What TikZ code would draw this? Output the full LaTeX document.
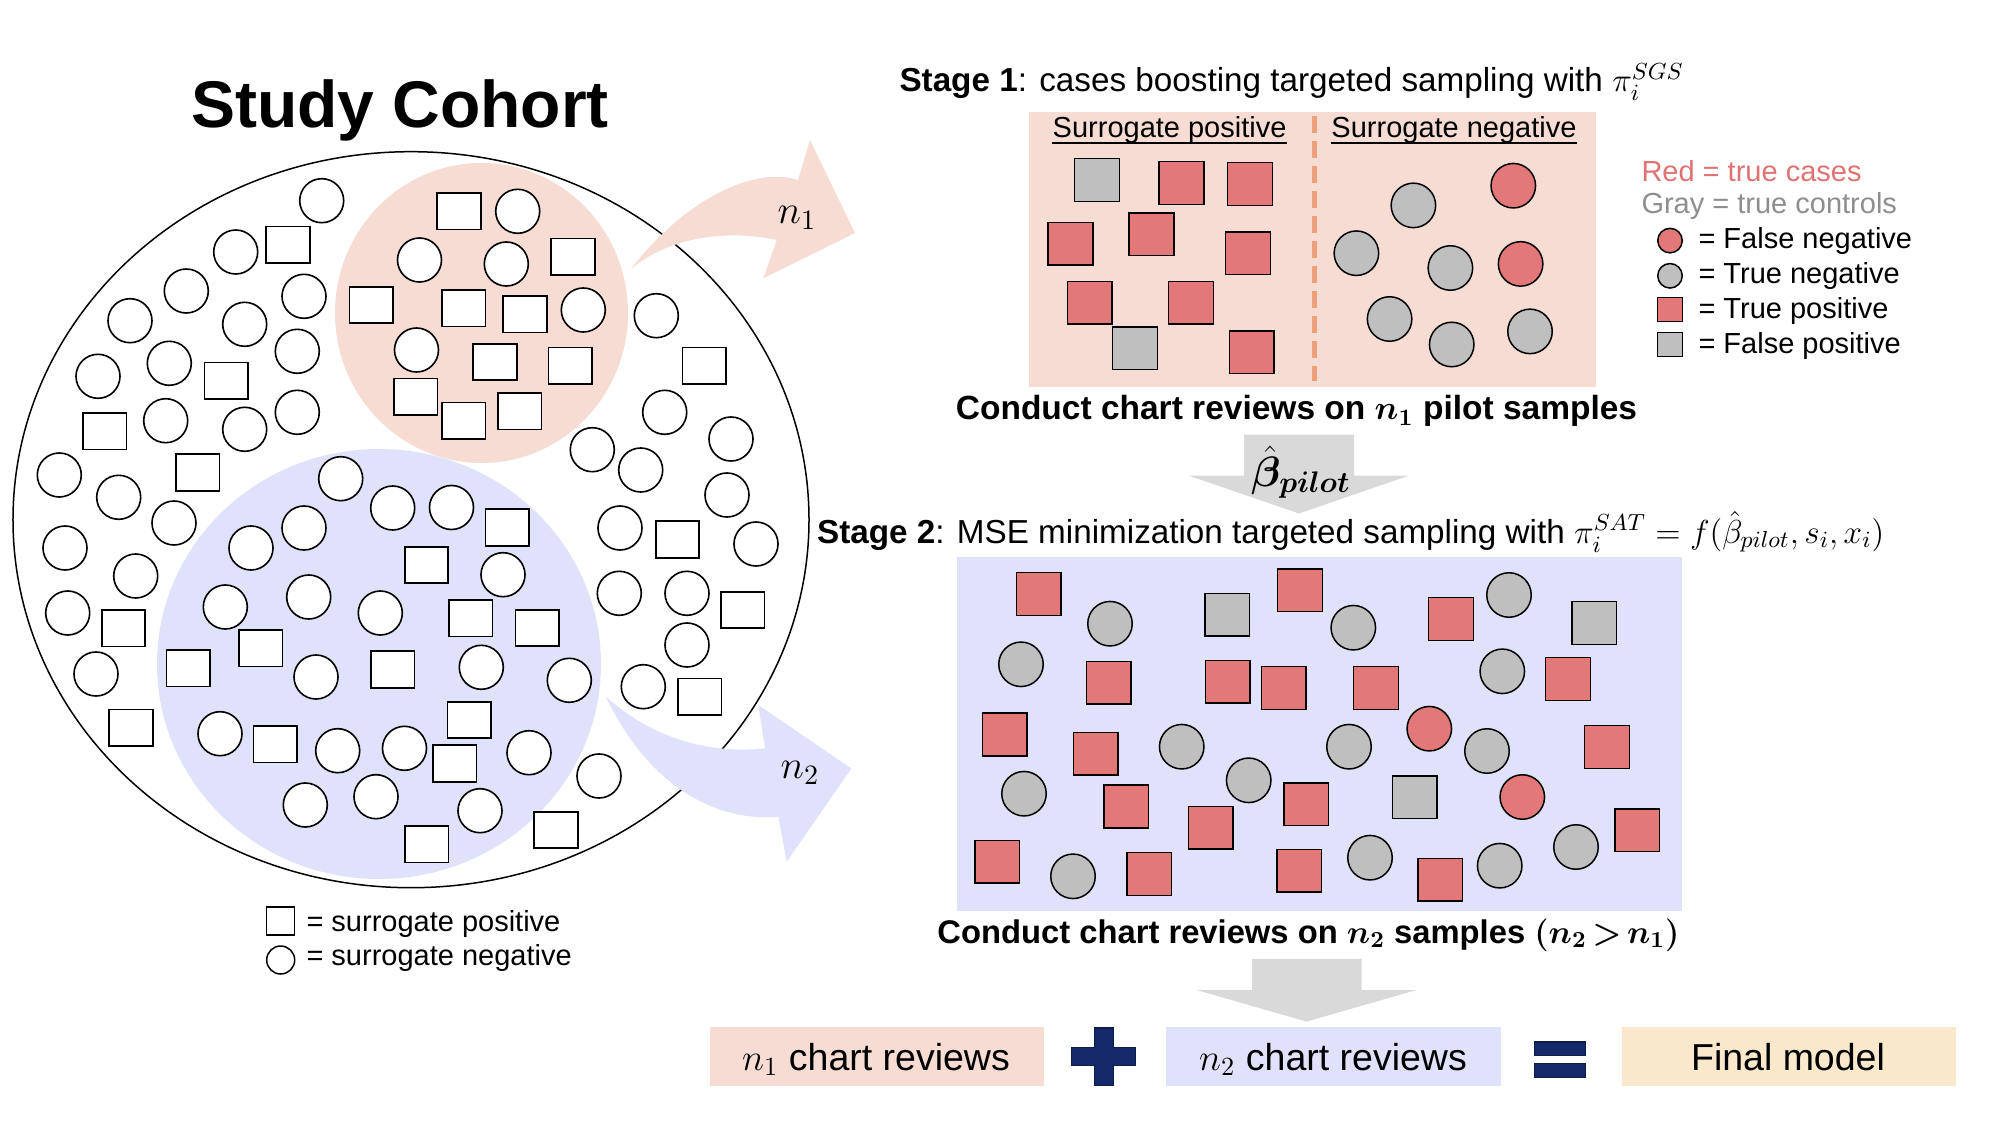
\RequirePackage{fix-cm}
\documentclass[tikz,border=0pt]{standalone}
\usepackage{fontspec}
\setmainfont{Liberation Sans}
\usepackage{amsmath}
\usepackage{bm}
\usetikzlibrary{shapes.geometric}
\definecolor{pinkbg}{HTML}{F6DCD2}
\definecolor{bluebg}{HTML}{E0E2FC}
\definecolor{redf}{HTML}{E27878}
\definecolor{grayf}{HTML}{BFBFBF}
\definecolor{beige}{HTML}{F9E8CB}
\definecolor{navy}{HTML}{14286A}
\definecolor{arrowgray}{HTML}{D9D9D9}
\definecolor{dashor}{HTML}{EEA07C}
\definecolor{redtxt}{HTML}{E07272}
\definecolor{graytxt}{HTML}{8E8E8E}
\begin{document}
\begin{tikzpicture}[x=0.4pt,y=-0.4pt,
  cs/.style={draw,fill=white,line width=0.65pt,minimum width=17.4pt,minimum height=14.6pt,inner sep=0pt},
  cc/.style={draw,fill=white,circle,line width=0.65pt,minimum size=17.6pt,inner sep=0pt},
  tsq/.style={draw,line width=0.6pt,minimum width=17.9pt,minimum height=17.1pt,inner sep=0pt},
  tci/.style={draw,circle,line width=0.6pt,minimum size=17.8pt,inner sep=0pt},
  rsq/.style={tsq,fill=redf}, gsq/.style={tsq,fill=grayf},
  rci/.style={tci,fill=redf}, gci/.style={tci,fill=grayf},
  lsq/.style={draw,line width=0.6pt,minimum width=10pt,minimum height=9.6pt,inner sep=0pt},
  lci/.style={draw,circle,line width=0.6pt,minimum size=9.8pt,inner sep=0pt},
  txt/.style={inner sep=0pt,font=\fontsize{11.6}{14}\selectfont},
  head/.style={inner sep=0pt,font=\fontsize{13.3}{16}\selectfont},
  bhead/.style={inner sep=0pt,font=\bfseries\fontsize{13.4}{16}\selectfont},
  boxtxt/.style={inner sep=0pt,font=\fontsize{15}{18}\selectfont,anchor=base},
  panel/.style={inner sep=0pt,anchor=north west}]
\useasboundingbox (0,0) rectangle (2000,1125);

% ---------- Study cohort ----------
\node[inner sep=0pt,anchor=base,font=\bfseries\fontsize{26.4}{30}\selectfont] (title) at (400,127.5) {Study Cohort};
\node[draw,ellipse,fill=white,line width=0.6pt,minimum width=318.4pt,minimum height=294.4pt,inner sep=0pt] (cohort) at (411,519.7) {};
\node[ellipse,fill=pinkbg,minimum width=117.2pt,minimum height=120pt,inner sep=0pt] (pinkell) at (481.5,313) {};
\node[ellipse,fill=bluebg,minimum width=177.6pt,minimum height=172pt,inner sep=0pt] (blueell) at (379,664) {};

\foreach \p [count=\i] in {(321.7,200.7),(235.7,252),(186.3,291),(304,296.3),(130,320.7),(244.7,324.3),(297.3,351.3),(169.3,363.3),(98,376.3),(165.7,420.7),(244.7,429.3),(297.3,412.3),(59.3,475),(118.7,497.3),(174,523),(340.7,478.7),(392.7,508),(304,528),(517.7,211.3),(419.5,260),(506.3,264),(583.3,310),(416.5,350),(656.3,315.7),(664.7,412.3),(731,439),(592.3,449.7),(640.7,470),(727,495),(620,528),(756,544),(619.3,593.3),(687,593.3),(687,645),(643.3,686.7),(599,776),(451.5,507.5),(503,574.7),(481.3,667.3),(569.3,680.3),(404.5,748.3),(529,752.7),(480,810.7),(65,548),(135.7,576),(251,548),(67.7,613),(225.3,607),(308.7,597),(380.3,613),(96,674),(316,677),(220,733.7),(337.7,750.7),(305.3,805),(376,796.7)}
  \node[cc] (cc\i) at \p {};
\foreach \p [count=\i] in {(288,244.8),(371.3,305),(226.3,380.8),(104.8,431.2),(197.7,472.5),(415.7,396.8),(459,211.2),(573,256.8),(463.7,308.2),(525,314.3),(495,362),(570.3,365.8),(463.7,420.8),(519.7,411.2),(704.3,365.8),(677.5,539.5),(742.7,610),(699.7,696.7),(556,830),(507.3,527.5),(426.5,565),(470.7,618.3),(537.3,628),(392.7,669.5),(469.3,720),(454.7,763.5),(426.7,844.2),(123.5,628.2),(188.3,668.2),(260.7,648.2),(131,727.8),(275.3,744.2)}
  \node[cs] (cs\i) at \p {};

% curved arrows
\fill[pinkbg] (630.7,269.3) .. controls (680,205) and (750,165) .. (798,180) -- (810,140) -- (855,233) -- (763.3,278.3) -- (776.7,240) .. controls (720,228) and (665,240) .. (630.7,269.3) -- cycle;
\node[inner sep=0pt,font=\fontsize{16}{19}\selectfont] (n1lab) at (797,218) {$n_1$};
\fill[bluebg] (606,696.7) .. controls (648,735) and (705,755) .. (765,748.3) -- (758.3,705) -- (851.4,768.5) -- (786.7,861.7) -- (778.3,816.7) .. controls (720,822) and (650,790) .. (606,696.7) -- cycle;
\node[inner sep=0pt,font=\fontsize{16}{19}\selectfont] (n2lab) at (800,773) {$n_2$};

% left legend
\node[lsq,minimum width=11.2pt,minimum height=11.2pt] (legsq) at (280.7,921) {};
\node[lci,minimum size=11.2pt] (legci) at (280.7,960) {};
\node[txt,anchor=base west] (legsqt) at (306,931.8) {= surrogate positive};
\node[txt,anchor=base west] (legcit) at (306,965) {= surrogate negative};

% ---------- Stage 1 ----------
\node[head,anchor=base west] (st1) at (899,91.5) {\textbf{Stage 1}: cases boosting targeted sampling with $\pi_i^{SGS}$};
\node[panel,fill=pinkbg,minimum width=226.6pt,minimum height=109.6pt] (st1box) at (1028.5,112) {};
\draw[dashor,line width=2pt,dash pattern=on 7pt off 3pt] (1314,115.6) -- (1314,380.6);
\node[txt,anchor=base] (spos) at (1169.6,138) {Surrogate positive};
\node[txt,anchor=base] (sneg) at (1454,138) {Surrogate negative};
\draw[line width=0.6pt] ([yshift=-2pt]spos.base west) -- ([yshift=-2pt]spos.base east);
\draw[line width=0.6pt] ([yshift=-2pt]sneg.base west) -- ([yshift=-2pt]sneg.base east);
\foreach \p [count=\i] in {(1181.6,183),(1250,184.1),(1070.6,243.7),(1151.6,234.3),(1248,253.3),(1089.7,302.8),(1191.1,302.8),(1251.8,352.2)}
  \node[rsq] (a\i) at \p {};
\foreach \p [count=\i] in {(1097,180),(1135,348.3)}
  \node[gsq] (b\i) at \p {};
\foreach \p [count=\i] in {(1513.3,185.7),(1520.6,263.9)}
  \node[rci] (c\i) at \p {};
\foreach \p [count=\i] in {(1413.4,205.4),(1356.4,253.2),(1450.4,268),(1389.6,319),(1451.7,344.5),(1530,331.4)}
  \node[gci] (d\i) at \p {};

% right legend
\node[txt,anchor=base west,text=redtxt] (lred) at (1641,181.3) {Red = true cases};
\node[txt,anchor=base west,text=graytxt] (lgray) at (1641,213.6) {Gray = true controls};
\node[lci,fill=redf] (l1) at (1670,240.6) {};
\node[lci,fill=grayf] (l2) at (1670,275.8) {};
\node[lsq,fill=redf] (l3) at (1670,309.5) {};
\node[lsq,fill=grayf] (l4) at (1670,344.7) {};
\node[txt,anchor=base west] (l1t) at (1698,248.8) {= False negative};
\node[txt,anchor=base west] (l2t) at (1698,283.7) {= True negative};
\node[txt,anchor=base west] (l3t) at (1698,318.9) {= True positive};
\node[txt,anchor=base west] (l4t) at (1698,353.7) {= False positive};

\node[bhead,anchor=base] (cr1) at (1296.5,420) {Conduct chart reviews on $\bm{n_1}$ pilot samples};

% gray arrow 1
\fill[arrowgray] (1244,434.5) -- (1354,434.5) -- (1354,475.7) -- (1408.7,475.7) -- (1299,513.5) -- (1189,475.7) -- (1244,475.7) -- cycle;
\node[inner sep=0pt,font=\fontsize{17}{20}\selectfont] (beta) at (1301,472) {$\bm{\hat{\beta}_{pilot}}$};

% ---------- Stage 2 ----------
\node[head,anchor=base west] (st2) at (816.6,543) {\textbf{Stage 2}: MSE minimization targeted sampling with $\pi_i^{SAT}=f(\hat{\beta}_{pilot},s_i,x_i)$};
\node[panel,fill=bluebg,minimum width=290pt,minimum height=141.6pt] (st2box) at (956,556.7) {};
\foreach \p [count=\i] in {(1038.7,594),(1300,590.3),(1108.7,682.8),(1227.8,681.7),(1283.7,688),(1004.7,734.5),(1095.8,753.7),(1126.2,806.5),(1210.8,827.8),(1306.3,804.3),(997.3,861.7),(1149.2,874),(1299.3,870.7),(1451,619),(1376,688),(1568,679),(1607,747),(1637.3,830.3),(1440.3,879.7)}
  \node[rsq] (e\i) at \p {};
\foreach \p [count=\i] in {(1227.2,614.7),(1594.2,623),(1414.8,797.3)}
  \node[gsq] (f\i) at \p {};
\foreach \p [count=\i] in {(1110,623.7),(1021,664.3),(1181.7,746.7),(1024,793.7),(1248.7,780.3),(1073,876.3),(1353.3,627.7),(1509,595),(1502.3,671.3),(1349,746.7),(1487,751),(1370,857.7),(1499.7,865.7),(1576,847)}
  \node[gci] (g\i) at \p {};
\foreach \p [count=\i] in {(1429.3,728.7),(1522.3,797)}
  \node[rci] (h\i) at \p {};

\node[bhead,anchor=base,font=\bfseries\fontsize{13.1}{16}\selectfont] (cr2) at (1308.5,943) {Conduct chart reviews on $\bm{n_2}$ samples $\bm{(n_2\,{>}\,n_1)}$};

% gray arrow 2
\fill[arrowgray] (1252,958.8) -- (1361.6,958.8) -- (1361.6,990) -- (1416.5,990) -- (1306.5,1021.6) -- (1196.4,990) -- (1252,990) -- cycle;

% ---------- bottom row ----------
\node[panel,fill=pinkbg,minimum width=133.8pt,minimum height=23.7pt] (bx1) at (709,1026.3) {};
\node[boxtxt] (bx1t) at (876,1070) {$n_1$ chart reviews};
\node[panel,fill=bluebg,minimum width=133.9pt,minimum height=23.7pt] (bx2) at (1165.8,1026.3) {};
\node[boxtxt] (bx2t) at (1333,1070) {$n_2$ chart reviews};
\node[panel,fill=beige,minimum width=133.4pt,minimum height=23.7pt] (bx3) at (1621.8,1026.3) {};
\node[boxtxt] (bx3t) at (1788,1070) {Final model};
\filldraw[fill=navy,draw=navy!70!black,line width=0.5pt] (1094.4,1028) -- (1113.5,1028) -- (1113.5,1047.5) -- (1135.2,1047.5) -- (1135.2,1065.8) -- (1113.5,1065.8) -- (1113.5,1085.5) -- (1094.4,1085.5) -- (1094.4,1065.8) -- (1071.4,1065.8) -- (1071.4,1047.5) -- (1094.4,1047.5) -- cycle;
\filldraw[fill=navy,draw=navy!70!black,line width=0.5pt] (1534.4,1042) rectangle (1585.5,1055.7);
\filldraw[fill=navy,draw=navy!70!black,line width=0.5pt] (1534.4,1063.6) rectangle (1585.5,1077.3);
\end{tikzpicture}
\end{document}
